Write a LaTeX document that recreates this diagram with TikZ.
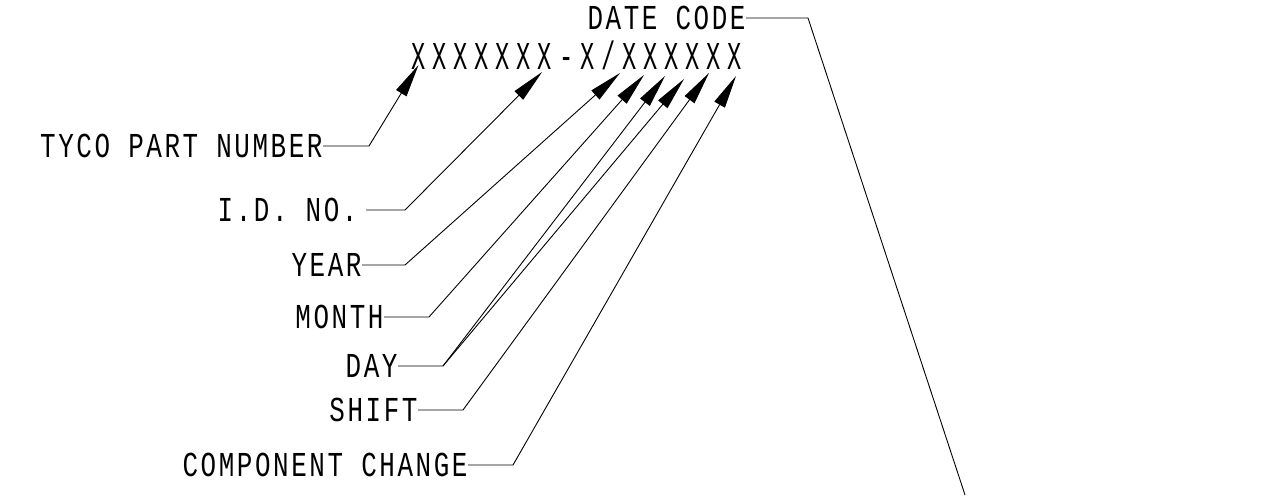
\documentclass[tikz,border=0pt]{standalone}
\usepackage{fontspec}
\usetikzlibrary{arrows.meta}

\newfontfamily\tagfamily{Liberation Mono}[FakeStretch=0.74,LetterSpace=7.4]
\newfontfamily\codefamily{Liberation Mono}[FakeStretch=0.6]
\newcommand\tagfont{\tagfamily\fontsize{35}{35}\selectfont}
\newcommand\codefont{\codefamily\fontsize{39.5}{39.5}\selectfont}

\begin{document}
\begin{tikzpicture}[x=1pt,y=-1pt,line width=0.9pt]
				\tikzstyle{every node}=[inner sep=0pt]
				\tikzstyle{tag}=[anchor=east,font=\tagfont]
				\tikzstyle{pointer}=[-{Triangle[length=33pt,width=12pt]}]
				\useasboundingbox (0,0) rectangle (1273,495);
				% the printed code, one node per character
				\foreach \ch [count=\i] in {X,X,X,X,X,X,X,-,X,/,X,X,X,X,X,X}
					\node[anchor=base,font=\codefont] (c\i) at (397.4+21.1*\i,69) {\ch};
				% labels
				\node[tag] (tyco) at (323,146) {TYCO PART NUMBER};
				\node[tag] (idno) at (358,210) {I.D. NO.};
				\node[tag] (year) at (362,265) {YEAR};
				\node[tag] (month) at (384,317) {MONTH};
				\node[tag] (day) at (398,366) {DAY};
				\node[tag] (shift) at (418,410) {SHIFT};
				\node[tag] (comp) at (468,465) {COMPONENT CHANGE};
				\node[tag] (datecode) at (746,18) {DATE CODE};
				\coordinate (dateend) at (965,495);
				% leaders
				\draw[pointer] (tyco.east) -- ++(46,0) -- ([shift={(0,-4)}]c1.base);
				\draw[pointer] ([xshift=8pt]idno.east) -- ++(39,0) -- ([shift={(-3,3)}]c7.base);
				\draw[pointer] (year.east) -- ++(43,0) -- ([shift={(-9.5,4)}]c11.base);
				\draw[pointer] (month.east) -- ++(45,0) -- ([shift={(-6.6,6)}]c12.base);
				\draw[pointer] (day.east) -- ++(45,0) -- ([shift={(-6.7,7)}]c13.base);
				\draw[pointer] ([xshift=45pt]day.east) -- ([shift={(-8.8,10)}]c14.base);
				\draw[pointer] (shift.east) -- ++(45,0) -- ([shift={(-4.9,4)}]c15.base);
				\draw[pointer] (comp.east) -- ++(45,0) -- ([shift={(1,7)}]c16.base);
				\draw (datecode.east) -- ++(62,0) -- (dateend);
\end{tikzpicture}
\end{document}
